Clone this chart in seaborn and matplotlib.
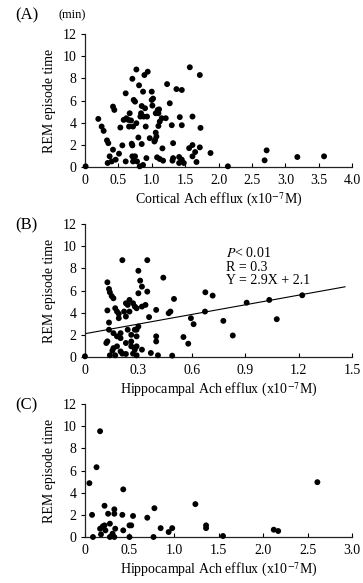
import numpy as np
import pandas as pd
import matplotlib
matplotlib.use('Agg')
import matplotlib.pyplot as plt
import seaborn as sns

# datos
cortical_x = [0.01, 0.20, 0.25, 0.28, 0.33, 0.35, 0.34, 0.37, 0.42, 0.42, 0.44, 0.40, 0.46, 0.51,
              0.53, 0.56, 0.58, 0.61, 0.61, 0.62, 0.65, 0.66, 0.67, 0.69, 0.70, 0.71, 0.71, 0.71,
              0.72, 0.72, 0.73, 0.75, 0.75, 0.77, 0.77, 0.78, 0.80, 0.81, 0.82, 0.83, 0.84, 0.85,
              0.85, 0.87, 0.87, 0.88, 0.89, 0.90, 0.91, 0.92, 0.93, 0.94, 0.97, 1.00, 1.00, 1.01,
              1.02, 1.04, 1.05, 1.06, 1.06, 1.07, 1.08, 1.09, 1.10, 1.10, 1.11, 1.12, 1.12, 1.15,
              1.16, 1.17, 1.21, 1.23, 1.27, 1.30, 1.32, 1.31, 1.32, 1.37, 1.41, 1.41, 1.42, 1.45,
              1.45, 1.45, 1.48, 1.57, 1.56, 1.61, 1.61, 1.61, 1.65, 1.67, 1.72, 1.72, 1.73, 1.88,
              2.14, 2.69, 2.72, 3.18, 3.58]
cortical_y = [0.06, 4.34, 3.65, 3.26, 2.40, 2.15, 0.36, 0.96, 1.56, 5.45, 5.15, 0.50, 0.66, 1.20,
              3.56, 1.95, 4.25, 6.65, 0.50, 4.40, 4.25, 3.65, 4.85, 4.20, 2.10, 7.96, 1.95, 0.96,
              0.50, 3.65, 6.05, 5.90, 0.96, 3.95, 8.80, 0.50, 2.66, 7.37, 0.06, 4.55, 4.85, 2.07,
              5.50, 6.80, 0.18, 4.55, 8.30, 5.30, 3.65, 0.80, 4.55, 8.60, 2.60, 6.05, 6.80, 5.54,
              6.17, 2.30, 2.45, 4.85, 3.10, 2.75, 0.87, 5.15, 4.85, 3.70, 5.20, 4.10, 0.72, 4.40,
              1.68, 0.57, 4.40, 7.48, 5.75, 3.77, 2.15, 0.57, 0.80, 7.03, 0.90, 0.36, 4.50, 6.95,
              3.77, 0.66, 0.36, 9.00, 1.70, 4.55, 1.98, 0.96, 1.35, 0.45, 8.30, 1.77, 3.53, 1.26,
              0.06, 0.60, 1.50, 0.90, 0.96]

hippo_x = [0.00, 0.126, 0.135, 0.14, 0.15, 0.16, 0.126, 0.135, 0.135, 0.126, 0.12, 0.14, 0.154,
           0.16, 0.17, 0.17, 0.18, 0.18, 0.18, 0.19, 0.19, 0.20, 0.20, 0.16, 0.20, 0.21, 0.21,
           0.22, 0.23, 0.23, 0.23, 0.23, 0.24, 0.24, 0.25, 0.25, 0.26, 0.26, 0.26, 0.27, 0.27,
           0.28, 0.28, 0.28, 0.29, 0.29, 0.29, 0.29, 0.30, 0.29, 0.30, 0.30, 0.31, 0.32, 0.32,
           0.32, 0.34, 0.35, 0.35, 0.36, 0.37, 0.40, 0.40, 0.40, 0.41, 0.44, 0.47, 0.48, 0.49,
           0.50, 0.553, 0.58, 0.595, 0.61, 0.676, 0.717, 0.674, 0.777, 0.83, 0.908, 1.035,
           1.077, 1.22]
hippo_y = [0.06, 6.74, 6.14, 5.84, 5.50, 5.30, 4.20, 3.11, 2.46, 1.41, 1.26, 0.15, 0.57,
           2.15, 0.15, 4.40, 1.86, 0.96, 4.10, 3.90, 3.50, 2.15, 1.70, 0.80, 0.50, 0.30, 8.74,
           4.10, 4.85, 3.65, 1.26, 0.27, 2.46, 4.70, 5.15, 4.10, 2.00, 0.96, 1.40, 4.85, 0.30,
           2.46, 0.66, 4.55, 0.15, 0.96, 4.40, 1.86, 2.75, 2.46, 7.78, 5.75, 6.89, 6.35, 0.66,
           4.55, 4.70, 8.74, 5.90, 3.60, 0.36, 4.25, 1.86, 1.40, 0.15, 7.16, 3.95, 4.10, 0.12,
           5.24, 1.80, 1.20, 3.50, 2.96, 5.84, 5.54, 4.10, 3.26, 1.94, 4.90, 5.15,
           3.41, 5.57]

hippo2_x = [0.05, 0.08, 0.09, 0.13, 0.17, 0.17, 0.18, 0.20, 0.22, 0.22, 0.23, 0.26, 0.28, 0.28,
            0.30, 0.31, 0.33, 0.33, 0.33, 0.34, 0.42, 0.43, 0.43, 0.50, 0.50, 0.52, 0.54, 0.70,
            0.77, 0.78, 0.85, 0.94, 0.98, 1.24, 1.36, 1.36, 1.55, 2.12, 2.17, 2.61]
hippo2_y = [4.86, 2.00, 0.00, 6.30, 9.55, 0.75, 0.24, 0.96, 2.82, 1.05, 0.60, 2.10, 1.20, 0.00,
            0.09, 0.30, 2.50, 2.10, 0.00, 0.75, 2.00, 4.30, 0.60, 0.00, 1.05, 1.05, 1.90, 1.74,
            0.00, 2.60, 0.80, 0.45, 0.80, 2.97, 1.05, 0.80, 0.09, 0.66, 0.54, 4.95]

# recta de regresion del panel B
pendiente = 2.9
intercepto = 2.1
x_recta = np.array([0.0, 1.46])

plt.rcParams['font.family'] = ['Liberation Serif', 'DejaVu Serif']
plt.rcParams['mathtext.fontset'] = 'stix'

fig = plt.figure(figsize=(3.63, 5.83), dpi=100)

paneles = [
    ('(A)', cortical_x, cortical_y, 4.0, np.arange(0, 4.01, 0.5), 'Cortical Ach efflux (x10$^{-7}$M)', 0.7136),
    ('(B)', hippo_x, hippo_y, 1.5, np.arange(0, 1.51, 0.3), 'Hippocampal Ach efflux (x10$^{-7}$M)', 0.3877),
    ('(C)', hippo2_x, hippo2_y, 3.0, np.arange(0, 3.01, 0.5), 'Hippocampal Ach efflux (x10$^{-7}$M)', 0.0789),
]

for letra, xs, ys, xmax, xticks, xlabel, bottom in paneles:
    ax = fig.add_axes([0.234, bottom, 0.736, 0.228])
    df = pd.DataFrame({'x': xs, 'y': ys})
    sns.scatterplot(data=df, x='x', y='y', ax=ax, color='black', s=18,
                    edgecolor='none', clip_on=False, zorder=3)
    ax.set_xlim(0, xmax)
    ax.set_ylim(0, 12)
    ax.set_yticks(range(0, 13, 2))
    ax.set_xticks(xticks)
    ax.set_xticklabels(['0' if t == 0 else f'{t:.1f}' for t in xticks])
    ax.tick_params(axis='x', direction='in', length=3, labelsize=10, pad=5, width=0.8)
    ax.tick_params(axis='y', direction='out', length=3, labelsize=10, pad=3, width=0.8)
    for lado in ['top', 'right']:
        ax.spines[lado].set_visible(False)
    for lado in ['left', 'bottom']:
        ax.spines[lado].set_linewidth(0.9)
        ax.spines[lado].set_color('#222222')
    ax.set_xlabel(xlabel, fontsize=10, labelpad=3)
    ax.set_ylabel('REM episode time', fontsize=10, labelpad=5)
    ax.text(-0.26, 1.14 if letra == '(A)' else 0.99, letra, transform=ax.transAxes,
            fontsize=12, ha='left', va='center')
    if letra == '(A)':
        ax.text(-0.10, 1.14, '(min)', transform=ax.transAxes, fontsize=9,
                ha='left', va='center')
    if letra == '(B)':
        sns.lineplot(x=x_recta, y=pendiente * x_recta + intercepto, ax=ax,
                     color='black', linewidth=0.8)
        ax.text(0.79, 9.4, '$P$< 0.01', fontsize=10, va='center')
        ax.text(0.79, 8.1, 'R = 0.3', fontsize=10, va='center')
        ax.text(0.79, 6.9, 'Y = 2.9X + 2.1', fontsize=10, va='center')

fig.savefig('out.png', dpi=100)
